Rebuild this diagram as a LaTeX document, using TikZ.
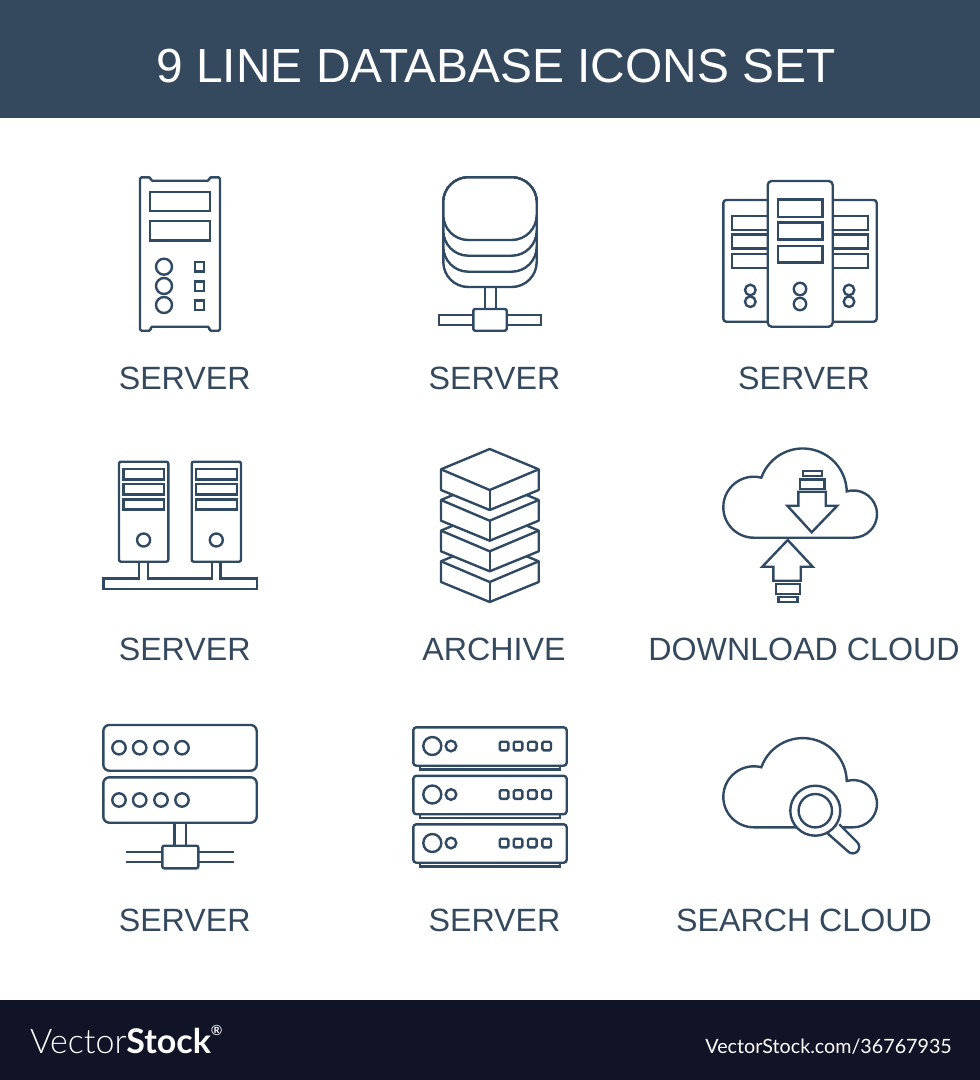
\documentclass[tikz,border=0pt]{standalone}
\usepackage{fontspec}
\setmainfont{Liberation Sans}
\newfontfamily\logolight{Lato Light}
\newfontfamily\logoplain{Lato}
\usetikzlibrary{positioning}
\definecolor{headerblue}{HTML}{34495E}
\definecolor{iconblue}{HTML}{304A64}
\definecolor{footerblack}{HTML}{111427}
\tikzset{
  icon line/.style={
    draw=iconblue,
    line width=2.4pt,
    fill=white,
  },
  soft box/.style={
    icon line,
    rounded corners=#1pt,
  },
  soft box/.default=1.5,
  caption/.style={
    anchor=base,
    inner sep=0pt,
    text=headerblue,
    font=\fontsize{32.2}{32.2}\selectfont,
  },
  cloud outline/.pic={
    \draw [icon line, miter limit=4] (0,0) arc (270:75.7:30.5pt) arc (160.3:1.4:44pt)
      arc (106.3:-90:23.62pt) -- cycle;
  },
}

\begin{document}
\begin{tikzpicture}[x=1pt,y=-1pt]
        \useasboundingbox (0,0) rectangle (980,1080);
        \fill [white] (0,0) rectangle (980,1080);
        \fill [headerblue] (0,0) rectangle (980,118);
        \fill [footerblack] (0,1000) rectangle (980,1080);

        \node [caption, text=white, font=\fontsize{47.85}{47.85}\selectfont] (title) at (496,82) {9 LINE DATABASE ICONS SET};

        % tower with slots
        \draw [icon line, line join=round, rounded corners=1.5pt] (140,177.3) -- (150.7,177.3) -- (150.7,180.7) -- (209.3,180.7) -- (209.3,177.3) -- (220,177.3)
          -- (220,330.7) -- (209.3,330.7) -- (209.3,326.7) -- (150.7,326.7) -- (150.7,330.7) -- (140,330.7) -- cycle;
        \draw [icon line] (150,192) rectangle (210,210.7);
        \draw [icon line] (150,221) rectangle (210,240.3);
        \foreach \y in {266.7,286,305} {
          \draw [icon line] (164,\y) circle (8);
          \draw [icon line] (194.7,\y-4.7) rectangle (204,\y+4.7);
        }

        % stacked disks
        \draw [soft box=25] (443.3,177.3) rectangle (536.7,287);
        \draw [soft box=25] (443.3,177.3) rectangle (536.7,271.7);
        \draw [soft box=25] (443.3,177.3) rectangle (536.7,255.7);
        \draw [soft box=25] (443.3,177.3) rectangle (536.7,240);
        \draw [icon line] (485,287) -- (485,309);
        \draw [icon line] (495.7,287) -- (495.7,309);
        \draw [icon line] (439,315) rectangle (541,325);
        \draw [soft box=2] (473.3,309) rectangle (506.7,330.7);

        % three towers
        \draw [soft box=3] (723.3,200) rectangle (876.7,321.7);
        \foreach \y in {215.7,234.3,253.7} {
          \draw [icon line] (731.7,\y) rectangle (867.7,\y+14);
        }
        \draw [icon line] (750.3,290) circle (5.3);
        \draw [icon line] (750.3,301.7) circle (5.3);
        \draw [icon line] (849,290) circle (5.3);
        \draw [icon line] (849,301.7) circle (5.3);
        \draw [soft box=4] (767.7,181) rectangle (832.7,326.7);
        \draw [icon line] (777.7,199.3) rectangle (822.3,216.7);
        \draw [icon line] (777.7,222.3) rectangle (822.3,239.3);
        \draw [icon line] (777.7,245.7) rectangle (822.3,262.3);
        \draw [icon line] (800,289) circle (6.2);
        \draw [icon line] (800,304) circle (6.2);

        % two towers on a bar
        \draw [icon line] (139,561.7) -- (139,578.3) -- (103.3,578.3) -- (103.3,589) -- (256.7,589) -- (256.7,578.3) -- (220.3,578.3) -- (220.3,561.7);
        \draw [icon line] (147.7,561.7) -- (147.7,578.3) -- (211.7,578.3) -- (211.7,561.7);
        \foreach \x in {119,191.7} {
          \draw [soft box=2] (\x,461.7) rectangle (\x+49.3,561.7);
          \draw [icon line] (\x+4.5,469) rectangle (\x+45,479.3);
          \draw [icon line] (\x+4.5,484) rectangle (\x+45,494.3);
          \draw [icon line] (\x+4.5,499.3) rectangle (\x+45,509.3);
          \draw [icon line] (\x+24.6,540) circle (6.5);
        }

        % pile of blocks
        \foreach \y in {92,61.3,30.7,0} {
          \draw [icon line, line join=round] (489.7,449+\y) -- (538.7,469.3+\y) -- (538.7,490+\y) -- (489.7,510+\y) -- (441,490+\y) -- (441,469.3+\y) -- cycle;
          \draw [icon line, fill=none, line join=round] (441,469.3+\y) -- (489.7,490+\y) -- (538.7,469.3+\y);
          \draw [icon line] (489.7,490+\y) -- (489.7,510+\y);
        }

        % cloud with two arrows
        \pic (cloudA) at (753.8,537.7) {cloud outline};
        \draw [icon line] (787.7,540) -- (812.7,566.7) -- (800.7,566.7) -- (800.7,580.7) -- (773.3,580.7) -- (773.3,566.7) -- (762.3,566.7) -- cycle;
        \draw [icon line] (775.7,584) rectangle (800,593.7);
        \draw [icon line] (778.3,596.7) rectangle (797.3,601.7);
        \draw [icon line] (811.7,532.3) -- (837.3,505.7) -- (825.7,505.7) -- (825.7,491.7) -- (798.3,491.7) -- (798.3,505.7) -- (787.3,505.7) -- cycle;
        \draw [icon line] (800,479.3) rectangle (824.3,489);
        \draw [icon line] (802.7,471) rectangle (821.7,475.7);

        % two boxes on a junction
        \draw [soft box=6] (103.3,725) rectangle (256.7,770.7);
        \draw [soft box=6] (103.3,777.3) rectangle (256.7,822.7);
        \foreach \x in {119,139.7,161,182} {
          \draw [icon line] (\x,747.7) circle (6.7);
          \draw [icon line] (\x,800) circle (6.7);
        }
        \draw [icon line] (174.3,822.7) -- (174.3,845.7);
        \draw [icon line] (185.7,822.7) -- (185.7,845.7);
        \draw [icon line] (126,852) -- (233.7,852);
        \draw [icon line] (126,861.7) -- (233.7,861.7);
        \draw [soft box=2] (162.3,845.7) rectangle (198.3,868.3);

        % rack units
        \foreach \y in {0,48.5,97} {
          \draw [icon line] (420,765.7+\y) -- (420,769.3+\y) -- (560,769.3+\y) -- (560,765.7+\y);
          \draw [soft box=3] (413.3,727.3+\y) rectangle (566.7,765.7+\y);
          \draw [icon line] (432.3,746+\y) circle (9);
          \draw [icon line] (451,746+\y) circle (5.3);
          \foreach \x in {504,518,532.3,546.7} {
            \draw [soft box] (\x-4.3,741.7+\y) rectangle (\x+4.3,750.3+\y);
          }
        }

        % cloud with lens
        \pic (cloudB) at (753.8,827.3) {cloud outline};
        \draw [icon line] (839.3,824.3) -- (857.3,842.3) arc (45:-135:6.5pt) -- (827.3,833.1);
        \draw [icon line] (815.3,810.7) circle (25);
        \draw [icon line] (815.3,810.7) circle (16.7);

        \node [caption] (label1) at (184.7,389) {SERVER};
        \node [caption] (label2) at (494.5,389) {SERVER};
        \node [caption] (label3) at (804,389) {SERVER};
        \node [caption] (label4) at (184.7,660) {SERVER};
        \node [caption] (label5) at (494,660) {ARCHIVE};
        \node [caption] (label6) at (804,660) {DOWNLOAD CLOUD};
        \node [caption] (label7) at (184.7,931) {SERVER};
        \node [caption] (label8) at (494.5,931) {SERVER};
        \node [caption] (label9) at (804,931) {SEARCH CLOUD};

        \node [anchor=base west, inner sep=0pt, text=white, font=\fontsize{34}{34}\selectfont] (brand) at (30,1053)
          {\logolight Vector\logoplain\bfseries Stock\raisebox{1.0ex}{\logolight\fontsize{14}{14}\selectfont ®}};
        \node [anchor=base east, inner sep=0pt, text=white, font=\logoplain\fontsize{19.7}{19.7}\selectfont] (stockid) at (952,1053) {VectorStock.com/36767935};
      \end{tikzpicture}
\end{document}
